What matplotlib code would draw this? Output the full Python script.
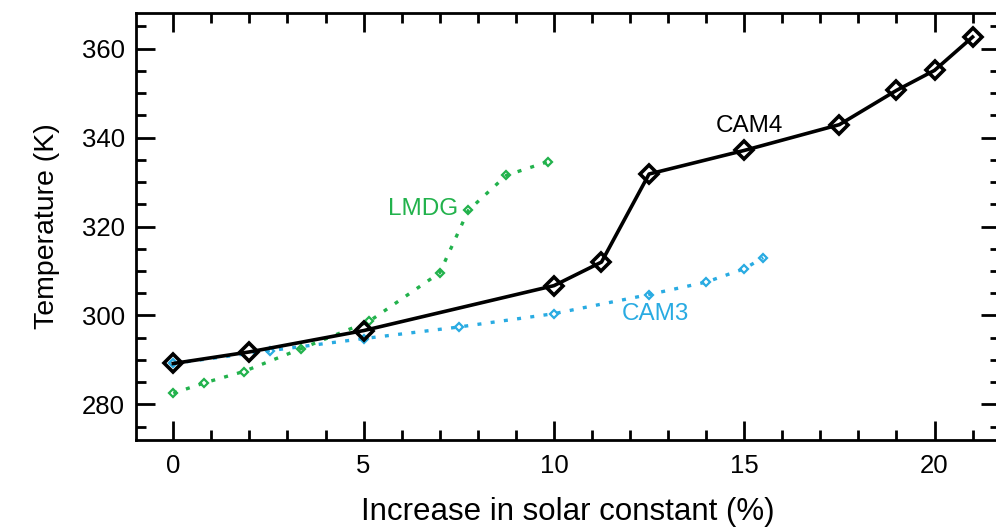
import matplotlib
matplotlib.use("Agg")
import matplotlib.pyplot as plt
from matplotlib.ticker import MultipleLocator

plt.rcParams['font.family'] = ['Liberation Sans', 'DejaVu Sans']

# solar constant increase (%) and global mean temperature (K)
cam4_x = [0, 2, 5, 10, 11.25, 12.5, 15, 17.5, 19, 20, 21]
cam4_t = [289.2, 291.8, 296.6, 306.7, 312.0, 331.8, 337.1, 342.9, 350.6, 355.1, 362.6]

lmdg_x = [0, 0.8, 1.85, 3.35, 5.15, 7.0, 7.75, 8.75, 9.85]
lmdg_t = [282.5, 284.8, 287.4, 292.5, 298.7, 309.6, 323.6, 331.5, 334.6]

cam3_x = [0, 2.55, 5, 7.5, 10, 12.5, 14, 15, 15.5]
cam3_t = [289.2, 292.1, 294.8, 297.4, 300.4, 304.7, 307.5, 310.5, 313.0]

green = "#22b24c"
blue = "#29abe2"

fig = plt.figure(figsize=(9.96, 5.31), dpi=100)
ax = fig.add_axes([136 / 996, 1 - 440 / 531, 1 - 136 / 996 + 0.004, (440 - 13) / 531])

dots = (0, (1.2, 2.8))
ax.plot(cam3_x, cam3_t, linestyle=dots, lw=2.4, color=blue,
        marker="D", ms=4.5, mfc="none", mec=blue, mew=1.6)
ax.plot(lmdg_x, lmdg_t, linestyle=dots, lw=2.4, color=green,
        marker="D", ms=4.5, mfc="none", mec=green, mew=1.6)
ax.plot(cam4_x, cam4_t, "-", lw=2.6, color="black",
        marker="D", ms=9.5, mfc="none", mec="black", mew=2.6)

ax.text(15.13, 342.7, "CAM4", color="black", fontsize=17.5, ha="center", va="center")
ax.text(12.67, 300.4, "CAM3", color=blue, fontsize=17.5, ha="center", va="center")
ax.text(6.56, 324.0, "LMDG", color=green, fontsize=17.5, ha="center", va="center")

ax.set_xlim(-0.98, 21.72)
ax.set_ylim(272, 368)
ax.xaxis.set_major_locator(MultipleLocator(5))
ax.xaxis.set_minor_locator(MultipleLocator(1))
ax.yaxis.set_major_locator(MultipleLocator(20))
ax.yaxis.set_minor_locator(MultipleLocator(5))
ax.tick_params(which="both", direction="in", top=True, right=True, width=2)
ax.tick_params(which="major", length=14, labelsize=18.5)
ax.tick_params(axis="x", which="major", pad=10)
ax.tick_params(axis="y", which="major", pad=8)
ax.tick_params(which="minor", length=7)
for s in ax.spines.values():
    s.set_linewidth(2)

ax.set_xlabel("Increase in solar constant (%)", fontsize=22.5, labelpad=14)
ax.set_ylabel("Temperature (K)", fontsize=20.5, labelpad=16)

fig.savefig("out.png", dpi=100)
